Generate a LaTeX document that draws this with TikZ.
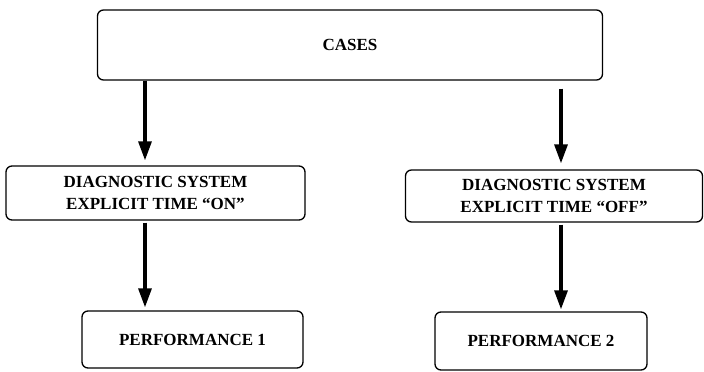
\documentclass[tikz,border=0pt]{standalone}
\usepackage{fontspec}
\setmainfont{Liberation Serif}
\usetikzlibrary{arrows.meta, positioning}

\tikzset{
    stage/.style={draw, line width=1.3pt, rounded corners=6pt, align=center,
        font=\fontsize{17}{21.5}\selectfont\bfseries, inner sep=0pt},
    flow/.style={line width=3.2pt, -{Triangle[length=19pt,width=13pt]}}
}

\begin{document}
\begin{tikzpicture}[x=1pt,y=-1pt]
        \useasboundingbox (0,0) rectangle (704,372);
        % boxes
        \node[stage, minimum width=505pt, minimum height=70pt] (cases) at (350,45) {CASES};
        \node[stage, minimum width=299pt, minimum height=54pt] (diagon) at (155.5,193)
            {DIAGNOSTIC SYSTEM\\EXPLICIT TIME ``ON''};
        \node[stage, minimum width=297pt, minimum height=52pt] (diagoff) at (554,196)
            {DIAGNOSTIC SYSTEM\\EXPLICIT TIME ``OFF''};
        \node[stage, minimum width=221pt, minimum height=57pt] (perf1) at (192.5,339.5) {PERFORMANCE 1};
        \node[stage, minimum width=212pt, minimum height=58pt] (perf2) at (541,341) {PERFORMANCE 2};
        % arrows
        \coordinate (lx) at (145,0);
        \coordinate (rx) at (561,0);
        \draw[flow, shorten >=5pt] (cases.south -| lx) -- (diagon.north -| lx);
        \draw[flow, shorten <=8pt, shorten >=6pt] (cases.south -| rx) -- (diagoff.north -| rx);
        \draw[flow, shorten <=2pt, shorten >=3pt] (diagon.south -| lx) -- (perf1.north -| lx);
        \draw[flow, shorten <=2pt, shorten >=2pt] (diagoff.south -| rx) -- (perf2.north -| rx);
    \end{tikzpicture}
\end{document}
